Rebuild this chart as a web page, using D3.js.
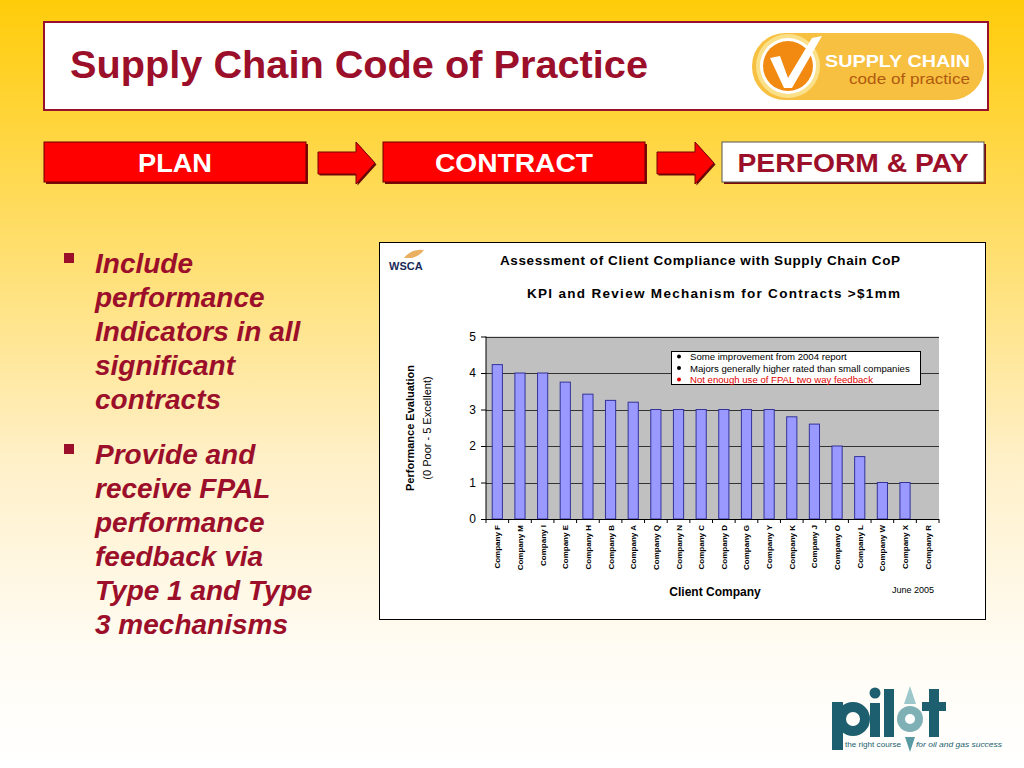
<!DOCTYPE html>
<html><head><meta charset="utf-8">
<script src="https://cdn.jsdelivr.net/npm/d3@7"></script>
<style>html,body{margin:0;padding:0;overflow:hidden;}svg{display:block;}</style>
</head><body>
<svg id="s" width="1024" height="768"></svg>
<script>
const companies = ["Company F","Company M","Company I","Company E","Company H","Company B","Company A","Company Q","Company N","Company C","Company D","Company G","Company Y","Company K","Company J","Company O","Company L","Company W","Company X","Company R"];
const scores = [4.23,4.0,4.0,3.75,3.42,3.25,3.2,3.0,3.0,3.0,3.0,3.0,3.0,2.8,2.6,2.0,1.71,1.0,1.0,0];
const yTicks = [0,1,2,3,4,5];
const notes = ["Some improvement from 2004 report","Majors generally higher rated than small companies","Not enough use of FPAL two way feedback"];
const noteColors = ["#000","#000","#e00000"];
const steps = ["PLAN","CONTRACT","PERFORM & PAY"];
const bullets = [["Include","performance","Indicators in all","significant","contracts"],["Provide and","receive FPAL","performance","feedback via","Type 1 and Type","3 mechanisms"]];

const svg = d3.select("#s");
const F = "'Liberation Sans', Arial, Helvetica, sans-serif";
const RED = "#9c0f2a";

// background gradient
const defs = svg.append("defs");
const g = defs.append("linearGradient").attr("id","bg").attr("x1",0).attr("y1",0).attr("x2",0).attr("y2",1);
g.append("stop").attr("offset","0%").attr("stop-color","#ffcc0a");
g.append("stop").attr("offset","30%").attr("stop-color","#ffdd66");
g.append("stop").attr("offset","60%").attr("stop-color","#fff0c8");
g.append("stop").attr("offset","85%").attr("stop-color","#fffcf4");
g.append("stop").attr("offset","100%").attr("stop-color","#ffffff");
svg.append("rect").attr("width",1024).attr("height",768).attr("fill","url(#bg)");

// header
svg.append("rect").attr("x",44).attr("y",22).attr("width",944).attr("height",88).attr("fill","#fff").attr("stroke","#99102e").attr("stroke-width",2);
svg.append("text").attr("x",70).attr("y",78).attr("font-family",F).attr("font-weight","bold").attr("font-size",39).attr("fill",RED).attr("textLength",578).attr("lengthAdjust","spacingAndGlyphs").text("Supply Chain Code of Practice");

// SC logo
const lg = svg.append("g");
lg.append("rect").attr("x",752).attr("y",33).attr("width",232).attr("height",67).attr("rx",33).attr("fill","#f7c040");
lg.append("circle").attr("cx",788).attr("cy",66).attr("r",32).attr("fill","#fbe08a");
lg.append("circle").attr("cx",788).attr("cy",66).attr("r",28).attr("fill","#fff");
lg.append("circle").attr("cx",788).attr("cy",66).attr("r",25).attr("fill","#f28a12");
lg.append("path").attr("d","M770,58 L780,56 L788,78 L812,38 L822,36 L792,88 L784,88 Z").attr("fill","#fff");
lg.append("text").attr("x",970).attr("y",67).attr("text-anchor","end").attr("font-family",F).attr("font-weight","bold").attr("font-size",17).attr("fill","#fff").attr("textLength",145).attr("lengthAdjust","spacingAndGlyphs").text("SUPPLY CHAIN");
lg.append("text").attr("x",970).attr("y",84).attr("text-anchor","end").attr("font-family",F).attr("font-size",15).attr("fill","#b05a10").attr("textLength",121).attr("lengthAdjust","spacingAndGlyphs").text("code of practice");

// process steps
const stepX = [44,383,722];
const stepTL = [74,158,231];
steps.forEach((s,i)=>{
  const last = i===2;
  svg.append("rect").attr("x",stepX[i]+2).attr("y",144).attr("width",262).attr("height",40).attr("fill","#7a0a0a");
  svg.append("rect").attr("x",stepX[i]).attr("y",142).attr("width",262).attr("height",40).attr("fill",last?"#fff":"#ff0000").attr("stroke",last?"#555":"#600").attr("stroke-width",1);
  svg.append("text").attr("x",stepX[i]+131-stepTL[i]/2).attr("y",172).attr("font-family",F).attr("font-weight","bold").attr("font-size",26).attr("fill",last?RED:"#fff").attr("textLength",stepTL[i]).attr("lengthAdjust","spacingAndGlyphs").text(s);
});
[318,657].forEach(x=>{
  const d = `M${x},152 L${x+38},152 L${x+38},142 L${x+57},163 L${x+38},184 L${x+38},174 L${x},174 Z`;
  svg.append("path").attr("d",d).attr("transform","translate(1.5,1.5)").attr("fill","#6a0a0a");
  svg.append("path").attr("d",d).attr("fill","#ff0000").attr("stroke","#700").attr("stroke-width",1);
});

// bullets
let by = [273,464];
bullets.forEach((b,i)=>{
  svg.append("rect").attr("x",64).attr("y",by[i]-20).attr("width",10).attr("height",10).attr("fill",RED);
  b.forEach((line,j)=>{
    svg.append("text").attr("x",95).attr("y",by[i]+j*34).attr("font-family",F).attr("font-weight","bold").attr("font-style","italic").attr("font-size",28).attr("fill",RED).text(line);
  });
});

// chart box
svg.append("rect").attr("x",379.5).attr("y",242.5).attr("width",606).attr("height",377).attr("fill","#fff").attr("stroke","#000").attr("stroke-width",1);
// WSCA logo
svg.append("path").attr("d","M404,258 Q412,248 424,250 Q420,256 412,258 Z").attr("fill","#e8b060");
svg.append("text").attr("x",389).attr("y",270).attr("font-family",F).attr("font-weight","bold").attr("font-size",11).attr("fill","#1a2a5a").text("WSCA");

svg.append("text").attr("x",500).attr("y",265).attr("font-family",F).attr("font-weight","bold").attr("font-size",13.5).attr("fill","#000").attr("textLength",400).attr("lengthAdjust","spacing").text("Assessment of Client Compliance with Supply Chain CoP");
svg.append("text").attr("x",527).attr("y",298).attr("font-family",F).attr("font-weight","bold").attr("font-size",13.5).attr("fill","#000").attr("textLength",373).attr("lengthAdjust","spacing").text("KPI and Review Mechanism for Contracts >$1mm");

const pl = 486, pr = 939, pt = 336.5, pb = 519;
const x = d3.scaleBand().domain(companies).range([pl,pr]).paddingInner(0.55).paddingOuter(0.275);
const y = d3.scaleLinear().domain([0,5]).range([pb,pt]);
const xb = d3.scaleBand().domain(companies).range([pl,pr]);

svg.append("rect").attr("x",pl).attr("y",pt).attr("width",pr-pl).attr("height",pb-pt).attr("fill","#c0c0c0");
svg.append("g").selectAll("line").data(yTicks.filter(t=>t>0)).join("line")
  .attr("x1",pl).attr("x2",pr).attr("y1",d=>Math.round(y(d))+0.5).attr("y2",d=>Math.round(y(d))+0.5).attr("stroke","#333").attr("stroke-width",1);

svg.append("g").selectAll("rect").data(companies).join("rect")
  .attr("x",(d)=>x(d)).attr("width",x.bandwidth())
  .attr("y",(d,i)=>y(scores[i])).attr("height",(d,i)=>pb-y(scores[i]))
  .attr("fill","#9999ff").attr("stroke","#333399").attr("stroke-width",1);

const ya = svg.append("g").attr("transform",`translate(${pl},0)`).call(d3.axisLeft(y).tickValues(yTicks).tickSize(5).tickFormat(d3.format("d")));
ya.selectAll("text").attr("font-family",F).attr("font-size",12).attr("fill","#000").attr("dx","-2");
ya.selectAll("line,path").attr("stroke","#000");
ya.select(".domain").attr("d",`M0,${pt}V${pb}`);

const xa = svg.append("g").attr("transform",`translate(0,${pb})`);
xa.append("line").attr("x1",pl).attr("x2",pr).attr("y1",0.5).attr("y2",0.5).attr("stroke","#000");
xa.selectAll("line.t").data(companies.concat(["_end"])).join("line").attr("class","t")
  .attr("x1",(d,i)=>pl+i*xb.step()).attr("x2",(d,i)=>pl+i*xb.step()).attr("y1",0).attr("y2",4).attr("stroke","#000");
xa.selectAll("text").data(companies).join("text")
  .attr("transform",d=>`translate(${xb(d)+xb.bandwidth()/2+3},6) rotate(-90)`)
  .attr("text-anchor","end").attr("font-family",F).attr("font-weight","bold").attr("font-size",8).attr("fill","#000").text(d=>d);

svg.append("text").attr("transform","translate(414,428) rotate(-90)").attr("text-anchor","middle").attr("font-family",F).attr("font-weight","bold").attr("font-size",11).text("Performance Evaluation");
svg.append("text").attr("transform","translate(431,428) rotate(-90)").attr("text-anchor","middle").attr("font-family",F).attr("font-size",11).text("(0 Poor - 5 Excellent)");

svg.append("text").attr("x",715).attr("y",596).attr("text-anchor","middle").attr("font-family",F).attr("font-weight","bold").attr("font-size",12).text("Client Company");
svg.append("text").attr("x",913).attr("y",593).attr("text-anchor","middle").attr("font-family",F).attr("font-size",9).text("June 2005");

// legend
svg.append("rect").attr("x",671.5).attr("y",351.5).attr("width",249).attr("height",33).attr("fill","#fff").attr("stroke","#000");
notes.forEach((n,i)=>{
  svg.append("circle").attr("cx",679).attr("cy",356.5+i*11.5).attr("r",2).attr("fill",noteColors[i]);
  svg.append("text").attr("x",690).attr("y",360+i*11.5).attr("font-family",F).attr("font-size",9.6).attr("fill",noteColors[i]).text(n);
});

// pilot logo (drawn as shapes)
const T = "#1d5f6e";
const pg = svg.append("g");
pg.append("rect").attr("x",832).attr("y",702).attr("width",11).attr("height",48).attr("fill",T);
pg.append("circle").attr("cx",853).attr("cy",719).attr("r",12).attr("fill","none").attr("stroke",T).attr("stroke-width",10);
pg.append("rect").attr("x",870).attr("y",703).attr("width",10).attr("height",34).attr("fill",T);
pg.append("circle").attr("cx",875).attr("cy",693).attr("r",5.5).attr("fill",T);
pg.append("rect").attr("x",884).attr("y",689).attr("width",10).attr("height",48).attr("fill",T);
pg.append("path").attr("d","M910,686 L916,704 L904,704 Z").attr("fill","#9cc8cc");
pg.append("circle").attr("cx",910).attr("cy",719).attr("r",13).attr("fill","#7fb0b5");
pg.append("circle").attr("cx",910).attr("cy",719).attr("r",5).attr("fill","#fff");
pg.append("path").attr("d","M905,737 L915,737 L910,752 Z").attr("fill","#5a9aa2");
pg.append("rect").attr("x",929).attr("y",689).attr("width",10).attr("height",48).attr("fill",T);
pg.append("rect").attr("x",922).attr("y",702).attr("width",24).attr("height",9).attr("fill",T);
pg.append("text").attr("x",845).attr("y",747).attr("font-family",F).attr("font-size",8).attr("fill",T).attr("textLength",56).attr("lengthAdjust","spacingAndGlyphs").text("the right course");
pg.append("text").attr("x",916).attr("y",747).attr("font-family",F).attr("font-style","italic").attr("font-size",8).attr("fill",T).attr("textLength",86).attr("lengthAdjust","spacingAndGlyphs").text("for oil and gas success");
</script>
</body></html>
